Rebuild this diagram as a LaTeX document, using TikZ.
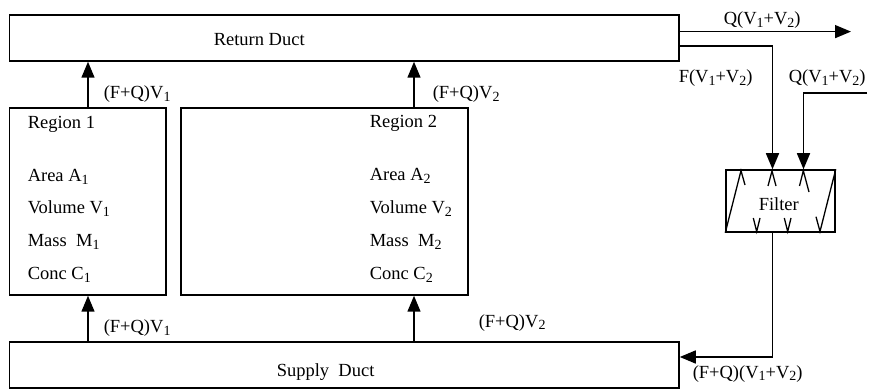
\documentclass[tikz,border=0pt]{standalone}
\usepackage{fontspec}
\setmainfont{Liberation Serif}
\usetikzlibrary{arrows.meta,calc}
\newcommand\dsub[1]{\raisebox{-2.4pt}{\fontsize{14}{15}\selectfont #1}}
\begin{document}
\begin{tikzpicture}[x=1pt,y=-1pt,
  line width=1.5pt,
  box/.style={draw,rectangle,inner sep=0pt},
  arr/.style={-{Triangle[length=16pt,width=13pt]}},
  lab/.style={anchor=base west,inner sep=0pt,font=\fontsize{18.5}{20}\selectfont},
  thin line/.style={line width=1.3pt}]
\useasboundingbox (0,0) rectangle (879,390);
% boxes
\node[box,minimum width=669.5pt,minimum height=46pt] (ret) at (344.25,38) {};
\node[box,minimum width=669.5pt,minimum height=46pt] (sup) at (344.25,365) {};
\node[box,minimum width=156.5pt,minimum height=187pt] (reg1) at (87.75,201.5) {};
\node[box,minimum width=287pt,minimum height=187pt] (reg2) at (324.5,201.5) {};
\node[box,minimum width=109pt,minimum height=62pt] (filt) at (780.5,201) {};
% texts
\node[lab] (tret) at (213,46) {Return Duct};
\node[lab] (tsup) at (276,376) {Supply\ \ Duct};
\node[lab] (tfil) at (758,211) {Filter};
\node[lab] (r1a) at (27,129) {Region 1};
\node[lab] (r1b) at (27,182) {Area A\dsub{1}};
\node[lab] (r1c) at (27,214) {Volume V\dsub{1}};
\node[lab] (r1d) at (27,247) {Mass\ \ M\dsub{1}};
\node[lab] (r1e) at (27,280) {Conc C\dsub{1}};
\node[lab] (r2a) at (369,128) {Region 2};
\node[lab] (r2b) at (369,181) {Area A\dsub{2}};
\node[lab] (r2c) at (369,214) {Volume V\dsub{2}};
\node[lab] (r2d) at (369,247) {Mass\ \ M\dsub{2}};
\node[lab] (r2e) at (369,280) {Conc C\dsub{2}};
\node[lab] (l1) at (103,99) {(F+Q)V\dsub{1}};
\node[lab] (l2) at (432,99) {(F+Q)V\dsub{2}};
\node[lab] (l3) at (103,333) {(F+Q)V\dsub{1}};
\node[lab] (l4) at (478,327) {(F+Q)V\dsub{2}};
\node[lab] (l5) at (723,25) {Q(V\dsub{1}+V\dsub{2})};
\node[lab] (l6) at (678,83) {F(V\dsub{1}+V\dsub{2})};
\node[lab] (l7) at (788,83) {Q(V\dsub{1}+V\dsub{2})};
\node[lab] (l8) at (692,378) {(F+Q)(V\dsub{1}+V\dsub{2})};
% coordinates
\coordinate (xa) at (88,0);
\coordinate (xb) at (414,0);
\coordinate (xf) at (772.5,0);
\coordinate (xq) at (803.5,0);
\coordinate (yq) at (0,31.6);
\coordinate (yf) at (0,46);
\coordinate (yi) at (0,93);
\coordinate (ys) at (0,357);
\coordinate (qend) at (851,31.6);
\coordinate (qin) at (867,93);
% connectors
\draw[arr] (xa |- reg1.north) -- (xa |- ret.south);
\draw[arr] (xb |- reg2.north) -- (xb |- ret.south);
\draw[arr] (xa |- sup.north) -- (xa |- reg1.south);
\draw[arr] (xb |- sup.north) -- (xb |- reg2.south);
\draw[arr] (ret.east |- yq) -- (qend);
\draw[arr] (ret.east |- yf) -- (xf |- yf) -- (xf |- filt.north);
\draw[arr] (qin) -- (xq |- qin) -- (xq |- filt.north);
\draw[arr] (xf |- filt.south) -- (xf |- ys) -- (sup.east |- ys);
% filter medium
\draw[thin line] (filt.south west) -- (741,170.7) -- (745,185);
\draw[thin line] (768,186) -- (772,171) -- (776,186);
\draw[thin line] (799.5,186) -- (803.3,170.7) -- (809,192);
\draw[thin line] (753.3,218) -- (756.7,231.5) -- (760,218);
\draw[thin line] (784.3,218) -- (787.7,231.5) -- (791,218);
\draw[thin line] (816,216.7) -- (820,231.5) -- (filt.north east);
\end{tikzpicture}
\end{document}
